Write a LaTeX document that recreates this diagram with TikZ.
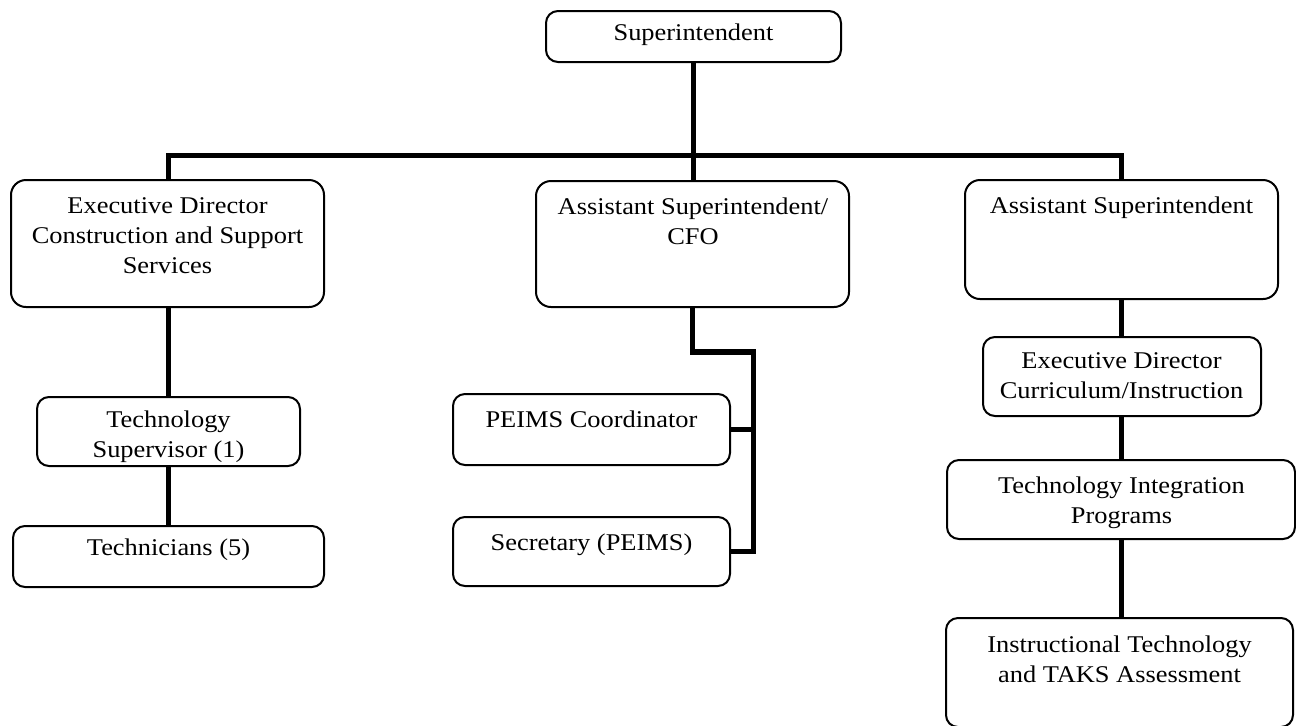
\documentclass[tikz,border=0pt]{standalone}
\usepackage{fontspec}
\setmainfont{Liberation Serif}[FakeStretch=1.1]
\begin{document}
\begin{tikzpicture}[x=0.5pt, y=-0.5pt,
    orgbox/.style={draw, line width=1pt, rounded corners=6pt, inner sep=0pt, fill=white},
    bigbox/.style={orgbox, rounded corners=7.5pt},
    txt/.style={anchor=base, align=center, inner sep=0pt, font=\fontsize{12}{15}\selectfont},
    wire/.style={line width=2.6pt, line join=miter}]
\useasboundingbox (0,0) rectangle (1296,725);

% boxes
\node[orgbox, minimum width=147.5pt, minimum height=25.5pt] (sup) at (693.5,36.5) {};
\node[bigbox, minimum width=156.5pt, minimum height=63.5pt] (exec) at (167.5,243.5) {};
\node[bigbox, minimum width=156.5pt, minimum height=63pt] (cfo) at (692.5,244) {};
\node[bigbox, minimum width=156.5pt, minimum height=59.5pt] (asst) at (1121.5,239.5) {};
\node[orgbox, minimum width=131.5pt, minimum height=34.5pt] (techsup) at (168.5,431.5) {};
\node[orgbox, minimum width=155.5pt, minimum height=30.5pt] (techn) at (168.5,556.5) {};
\node[orgbox, minimum width=138.5pt, minimum height=35.5pt] (peims) at (591.5,429.5) {};
\node[orgbox, minimum width=138.5pt, minimum height=34.5pt] (sec) at (591.5,551.5) {};
\node[orgbox, minimum width=139pt, minimum height=39.5pt] (edci) at (1122,376.5) {};
\node[orgbox, minimum width=174pt, minimum height=39.5pt] (tip) at (1121,499.5) {};
\node[orgbox, minimum width=173.5pt, minimum height=54.5pt] (itt) at (1119.5,672.5) {};

% labels (base anchor sits on the last line)
\node[txt] (supT) at (693.5,40) {Superintendent};
\node[txt] (execT) at (167.5,273) {Executive Director\\Construction and Support\\Services};
\node[txt] (cfoT) at (693,244) {Assistant Superintendent/\\CFO};
\node[txt] (asstT) at (1121.5,213) {Assistant Superintendent};
\node[txt] (techsupT) at (168.5,457) {Technology\\Supervisor (1)};
\node[txt] (technT) at (168.5,555) {Technicians (5)};
\node[txt] (peimsT) at (591.5,427) {PEIMS Coordinator};
\node[txt] (secT) at (591.5,550) {Secretary (PEIMS)};
\node[txt] (edciT) at (1121.5,398) {Executive Director\\Curriculum/Instruction};
\node[txt] (tipT) at (1121.5,523) {Technology Integration\\Programs};
\node[txt] (ittT) at (1119.5,682) {Instructional Technology\\and TAKS Assessment};

% connectors
\coordinate (bus) at (693.5,155.5);
\coordinate (elbow) at (753.5,352);
\draw[wire] (sup.south) -- (sup.south |- cfo.north);
\draw[wire] (exec.north -| techsup.north) |- (bus) -| (asst.north);
\draw[wire] (exec.south -| techsup.north) -- (techsup.north);
\draw[wire] (techsup.south) -- (techn.north);
\draw[wire] (cfo.south) |- (elbow) |- (sec.east);
\draw[wire] (peims.east) -- (peims.east -| elbow);
\draw[wire] (asst.south) -- (asst.south |- edci.north);
\draw[wire] (edci.south -| asst.south) -- (asst.south |- tip.north);
\draw[wire] (tip.south -| asst.south) -- (asst.south |- itt.north);
\end{tikzpicture}
\end{document}
